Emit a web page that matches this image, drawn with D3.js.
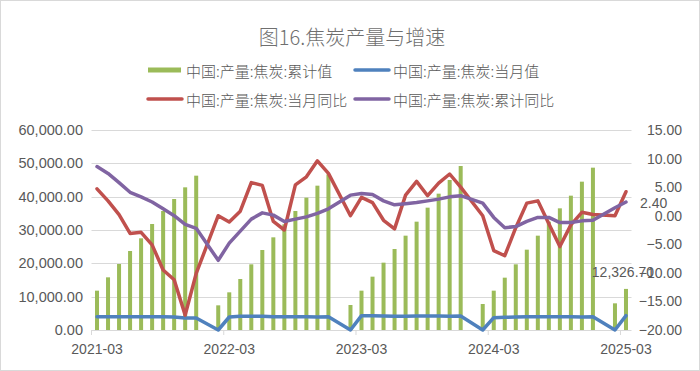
<!DOCTYPE html>
<html>
<head>
<meta charset="utf-8">
<script src="https://cdn.jsdelivr.net/npm/d3@7"></script>
<style>
  body { margin: 0; background: #fff; }
  svg text { fill: #595959; }
</style>
</head>
<body>
<svg id="chart" width="700" height="371"></svg>
<script>
// months, 2021-03 .. 2025-03 (Jan rows are empty)
var months = [];
for (var y = 2021; y <= 2025; y++) {
  for (var m = 1; m <= 12; m++) {
    if ((y == 2021 && m < 3) || (y == 2025 && m > 3)) continue;
    months.push(y + "-" + (m < 10 ? "0" + m : m));
  }
}

// 中国:产量:焦炭:累计值 (万吨)
var cumValue = [11800, 15800, 19800, 23700, 27500, 31800, 35700, 39300, 42800, 46300,
  null, 7400, 11300, 15300, 19700, 24000, 27800, 31700, 35700, 39700, 43300, 46700,
  null, 7500, 11800, 16000, 20200, 24300, 28300, 32500, 36700, 40900, 45000, 49200,
  null, 7800, 11800, 15700, 19700, 24100, 28300, 32500, 36500, 40300, 44500, 48700,
  null, 8000, 12326.7];

// 中国:产量:焦炭:当月值
var monthValue = [4000, 4000, 4000, 4000, 4000, 4000, 4000, 3900, 3600, 3600,
  null, 0, 3900, 4100, 4100, 4100, 4000, 4000, 4000, 4000, 3900, 4000,
  null, 0, 4300, 4300, 4200, 4100, 4100, 4200, 4200, 4200, 4100, 4200,
  null, 0, 3700, 3800, 3900, 4000, 4000, 4000, 4000, 4000, 3900, 4000,
  null, 0, 4300];

// 中国:产量:焦炭:当月同比 (%)
var monthYoY = [4.7, 2.6, 0.2, -3.1, -2.9, -5.1, -9.5, -11.2, -17.4, -10.1,
  null, 0.0, -1.1, 0.8, 5.8, 5.3, -1.0, -2.5, 5.4, 6.8, 9.6, 7.4,
  null, 0.0, 3.2, 2.3, -0.8, -2.3, 3.6, 6.0, 3.5, 5.7, 7.3, 5.0,
  null, 0.0, -6.1, -7.0, -2.1, 2.2, 2.6, -1.4, -5.4, -1.6, 0.6, 0.2,
  null, 0.0, 4.2];

// 中国:产量:焦炭:累计同比 (%)
var cumYoY = [8.6, 7.4, 5.8, 4.1, 3.3, 2.4, 1.2, 0.0, -1.5, -2.2,
  null, -7.8, -4.8, -2.7, -0.6, 0.5, 0.1, -1.0, -0.6, -0.2, 0.4, 1.2,
  null, 3.6, 3.9, 3.7, 2.6, 1.9, 2.1, 2.3, 2.6, 2.9, 3.3, 3.5,
  null, 2.2, -0.3, -2.1, -1.9, -1.0, -0.3, -0.3, -1.2, -1.2, -0.9, -0.8,
  null, 1.4, 2.4];

var leftTicks = [0, 10000, 20000, 30000, 40000, 50000, 60000];
var rightTicks = [-20, -15, -10, -5, 0, 5, 10, 15];
var xLabels = ["2021-03", "2022-03", "2023-03", "2024-03", "2025-03"];

var colors = { cum: "#9bbb59", month: "#4f81bd", mYoY: "#c0504d", cYoY: "#8064a2" };
var axisFont = "'Liberation Sans', Arial, sans-serif";
var cjkFont = "'Noto Sans CJK SC', sans-serif";

var svg = d3.select("#chart");

svg.append("rect")
    .attr("x", 0.5).attr("y", 0.5)
    .attr("width", 699).attr("height", 370)
    .attr("fill", "#fff")
    .attr("stroke", "#d9d9d9");

var x = d3.scaleBand().domain(months).range([91.5, 631.5]).padding(0);
var yL = d3.scaleLinear().domain([0, 60000]).range([330, 130]);
var yR = d3.scaleLinear().domain([-20, 15]).range([330, 130]);
var cx = function(i) { return x(months[i]) + x.bandwidth() / 2; };

// title
svg.append("text")
    .attr("x", 352).attr("y", 36)
    .attr("text-anchor", "middle")
    .attr("dominant-baseline", "central")
    .style("font-family", cjkFont)
    .style("font-size", "20px")
    .style("font-weight", 300)
    .style("fill", "#6f6f6f")
    .text("图16.焦炭产量与增速");

// gridlines
svg.append("g").selectAll("line")
    .data(leftTicks)
  .enter().append("line")
    .attr("x1", 91.5).attr("x2", 631.5)
    .attr("y1", function(d) { return Math.round(yL(d)) + 0.5; })
    .attr("y2", function(d) { return Math.round(yL(d)) + 0.5; })
    .attr("stroke", "#d9d9d9");

// left axis
var gl = svg.append("g")
    .attr("transform", "translate(83,0)")
    .call(d3.axisLeft(yL).tickValues(leftTicks).tickSize(0).tickPadding(0)
      .tickFormat(d3.format(",.2f")));
gl.select(".domain").remove();
gl.selectAll("text").style("font-family", axisFont).style("font-size", "14.5px").attr("fill", "#595959");

// right axis
var gr = svg.append("g")
    .attr("transform", "translate(682,0)")
    .call(d3.axisLeft(yR).tickValues(rightTicks).tickSize(0).tickPadding(0)
      .tickFormat(d3.format(".2f")));
gr.select(".domain").remove();
gr.selectAll("text").style("font-family", axisFont).style("font-size", "14px").attr("fill", "#595959");

// x axis: labels every 12 months, ticks at category edges
var xAxis = d3.axisBottom(x)
    .tickValues(xLabels)
    .tickSize(0)
    .tickPadding(14);
var gx = svg.append("g").attr("transform", "translate(0,330)").call(xAxis);
gx.select(".domain").remove();
gx.selectAll("text").style("font-family", axisFont).style("font-size", "14px").attr("fill", "#595959");
svg.append("g").selectAll("line")
    .data(xLabels)
  .enter().append("line")
    .attr("x1", function(d) { return x(d); })
    .attr("x2", function(d) { return x(d); })
    .attr("y1", 330).attr("y2", 335)
    .attr("stroke", "#d9d9d9");

// bars
svg.append("g").selectAll("rect")
    .data(cumValue.map(function(v, i) { return { i: i, v: v }; }).filter(function(d) { return d.v != null; }))
  .enter().append("rect")
    .attr("x", function(d) { return cx(d.i) - 2; })
    .attr("width", 4)
    .attr("y", function(d) { return yL(d.v); })
    .attr("height", function(d) { return 330 - yL(d.v); })
    .attr("fill", colors.cum);

function drawLine(vals, scale, color) {
  var pts = vals.map(function(v, i) { return { i: i, v: v }; })
      .filter(function(d) { return d.v != null; });
  var line = d3.line()
      .x(function(d) { return cx(d.i); })
      .y(function(d) { return scale(d.v); });
  svg.append("path")
      .datum(pts)
      .attr("d", line)
      .attr("fill", "none")
      .attr("stroke", color)
      .attr("stroke-width", 3.5)
      .attr("stroke-linejoin", "round")
      .attr("stroke-linecap", "round");
}
drawLine(monthValue, yL, colors.month);
drawLine(monthYoY, yR, colors.mYoY);
drawLine(cumYoY, yR, colors.cYoY);

// data labels on the last point
var last = months.length - 1;
svg.append("text")
    .attr("x", cx(last) - 3).attr("y", 272)
    .attr("text-anchor", "middle")
    .attr("dominant-baseline", "central")
    .style("font-family", axisFont).style("font-size", "14px")
    .text(d3.format(",.2f")(cumValue[last]));
svg.append("text")
    .attr("x", 640).attr("y", yR(cumYoY[last]) + 1)
    .attr("dominant-baseline", "central")
    .style("font-family", axisFont).style("font-size", "14px")
    .text(d3.format(".2f")(cumYoY[last]));

// legend
var legend = [
  { name: "中国:产量:焦炭:累计值", color: colors.cum, type: "bar", x: 148, y: 70 },
  { name: "中国:产量:焦炭:当月值", color: colors.month, type: "line", x: 355, y: 70 },
  { name: "中国:产量:焦炭:当月同比", color: colors.mYoY, type: "line", x: 148, y: 99 },
  { name: "中国:产量:焦炭:累计同比", color: colors.cYoY, type: "line", x: 355, y: 99 }
];
var lg = svg.append("g").selectAll("g")
    .data(legend)
  .enter().append("g")
    .attr("transform", function(d) { return "translate(" + d.x + "," + d.y + ")"; });
lg.filter(function(d) { return d.type == "bar"; }).append("rect")
    .attr("x", 0).attr("y", -2.5).attr("width", 33).attr("height", 5)
    .attr("fill", function(d) { return d.color; });
lg.filter(function(d) { return d.type == "line"; }).append("line")
    .attr("x1", 0).attr("x2", 34)
    .attr("stroke", function(d) { return d.color; })
    .attr("stroke-width", 3.5)
    .attr("stroke-linecap", "round");
lg.append("text")
    .attr("x", 38)
    .attr("dominant-baseline", "central")
    .style("font-family", cjkFont)
    .style("font-size", "15px")
    .style("font-weight", 300)
    .text(function(d) { return d.name; });
</script>
</body>
</html>
